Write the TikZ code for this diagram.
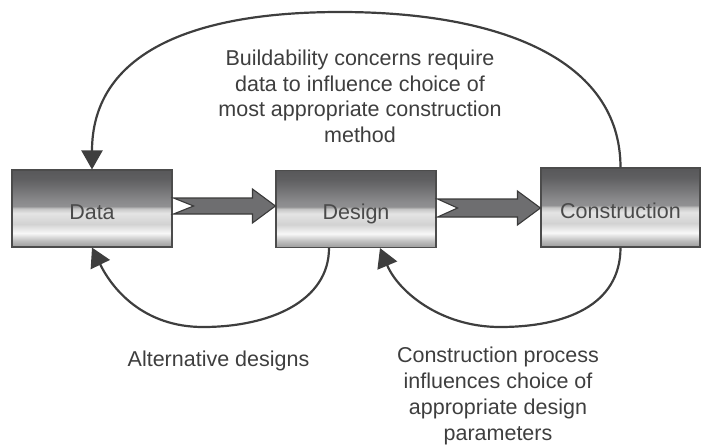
\documentclass[tikz,border=0pt]{standalone}
\usepackage{fontspec}
\setmainfont{Liberation Sans}
\usetikzlibrary{arrows.meta,calc}

\definecolor{ink}{HTML}{3E3E3E}
\definecolor{labelink}{HTML}{4A4A4A}
\definecolor{shaftfill}{HTML}{6E6E70}
\definecolor{shaftline}{HTML}{3A3A3A}
\definecolor{boxline}{HTML}{4C4C4C}
% metallic band colours, top to bottom
\definecolor{g0}{HTML}{58585A}
\definecolor{g1}{HTML}{5F5F61}
\definecolor{g2}{HTML}{8A8A8C}
\definecolor{g3}{HTML}{909092}
\definecolor{g4}{HTML}{C6C6C6}
\definecolor{g5}{HTML}{E4E4E4}
\definecolor{g6}{HTML}{D2D2D2}
\definecolor{g7}{HTML}{F8F8F8}
\definecolor{g8}{HTML}{BDBDBD}
\definecolor{g9}{HTML}{9C9C9C}

\pgfdeclareverticalshading{boxshade}{100bp}{%
  color(0bp)=(g9); color(25bp)=(g9); color(29bp)=(g8); color(34bp)=(g7);
  color(40bp)=(g6); color(47bp)=(g5); color(50bp)=(g4); color(51.5bp)=(g3);
  color(55bp)=(g2); color(69bp)=(g1); color(75bp)=(g0); color(100bp)=(g0)}

% notched block arrow from the east side of #1 to the west side of #2
% #3 = half shaft thickness, #4 = vertical shift of the centre line
\newcommand\flowarrow[4]{%
  \coordinate (#1-tail) at ($(#1.east)+(0,#4)$);
  \coordinate (#1-tip) at (#2.west |- #1-tail);
  \draw[flow] ($(#1-tail)+(1,-#3)$) -- ($(#1-tail)+(21,0)$) -- ($(#1-tail)+(1,#3)$)
    -- ($(#1-tip)+(-23,#3)$) -- ($(#1-tip)+(-23,17)$) -- (#1-tip)
    -- ($(#1-tip)+(-23,-17)$) -- ($(#1-tip)+(-23,-#3)$) -- cycle;}

\begin{document}
\begin{tikzpicture}[x=1pt,y=-1pt,
  stage/.style={draw=boxline, line width=1.1pt, shade, shading=boxshade,
    minimum width=160pt, minimum height=77pt, inner sep=0pt,
    text height=21.6pt, text depth=0pt, text=labelink,
    font=\fontsize{21.5}{25.8}\selectfont},
  feedback/.style={draw=ink, line width=2.2pt,
    -{Triangle[width=21pt,length=19pt]}},
  note/.style={text=ink, align=center, inner sep=0pt,
    font=\fontsize{21.5}{25.8}\selectfont},
  flow/.style={fill=shaftfill, draw=shaftline, line width=1.1pt, line join=miter}]

\useasboundingbox (0,0) rectangle (702,445);

% stages
\node[stage] (data) at (92,208.5) {Data};
\node[stage] (design) at (356,209) {Design};
\node[stage, minimum width=159pt, minimum height=79pt] (construction) at (620.5,207.5) {Construction};

% forward flow
\flowarrow{data}{design}{8}{-2.5}
\flowarrow{design}{construction}{9}{-1}

% buildability loop over the top
\coordinate (apex) at (340,12);
\draw[feedback] (construction.north) .. controls +(0,-108) and +(160,0) .. (apex)
  .. controls +(-160,0) and +(0,-110) .. (data.north);

% alternative designs loop
\coordinate (altstart) at ($(design.south)+(-27,0)$);
\coordinate (altlow) at (203,327);
\draw[feedback] (altstart) .. controls +(0,53) and +(67,0) .. (altlow)
  .. controls +(-60,0) and +(20,41) .. (data.south);

% construction process loop
\coordinate (cplow) at (500,327);
\coordinate (cpend) at ($(design.south)+(24,0)$);
\draw[feedback] (construction.south) .. controls +(0,58) and +(65,0) .. (cplow)
  .. controls +(-60,0) and +(18,43) .. (cpend);

% captions
\node[note, anchor=north] (buildability) at (360,49.6)
  {Buildability concerns require\\data to influence choice of\\most appropriate construction\\method};
\node[note, anchor=base] (alternatives) at (218.5,366) {Alternative designs};
\node[note, anchor=north] (process) at (498,347)
  {Construction process\\influences choice of\\appropriate design\\parameters};
\end{tikzpicture}
\end{document}
